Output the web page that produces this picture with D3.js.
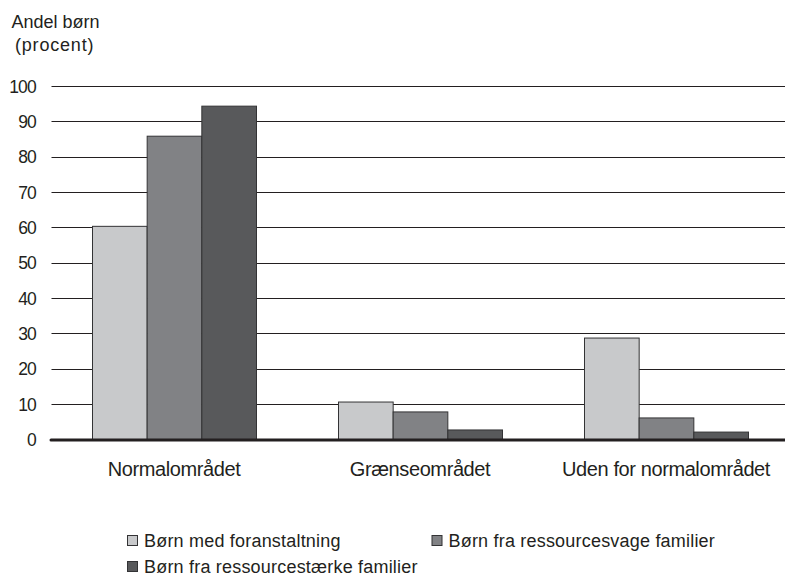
<!DOCTYPE html>
<html>
<head>
<meta charset="utf-8">
<script src="https://cdn.jsdelivr.net/npm/d3@7"></script>
<style>
  html, body { margin: 0; padding: 0; background: #fff; }
  svg { display: block; font-family: "Liberation Sans", Arial, sans-serif; }
</style>
</head>
<body>
<svg id="chart" width="785" height="576"></svg>
<script>
const categories = ["Normalområdet", "Grænseområdet", "Uden for normalområdet"];
const seriesNames = ["Børn med foranstaltning", "Børn fra ressourcesvage familier", "Børn fra ressourcestærke familier"];
const seriesColors = ["#c8c9cb", "#818285", "#58595b"];
const foranstaltning = [60.3, 10.6, 28.7];
const ressourcesvage = [85.8, 7.8, 6.1];
const ressourcestaerke = [94.3, 2.7, 2.1];
const yTicks = [0, 10, 20, 30, 40, 50, 60, 70, 80, 90, 100];
const yTitle = ["Andel børn", "(procent)"];

const seriesValues = [foranstaltning, ressourcesvage, ressourcestaerke];

const svg = d3.select("#chart");
const x0 = d3.scaleBand().domain(categories).range([51, 789]).padding(0);
const x1 = d3.scaleBand().domain(d3.range(seriesNames.length)).range([0, 164]).padding(0);
const y = d3.scaleLinear().domain([0, 100]).range([439.5, 86]);

// gridlines
svg.append("g").selectAll("line").data(yTicks.filter(d => d > 0)).join("line")
  .attr("x1", 51.5).attr("x2", 785)
  .attr("y1", d => Math.round(y(d)) + 0.5).attr("y2", d => Math.round(y(d)) + 0.5)
  .attr("stroke", "#231f20").attr("stroke-width", 1.2);

// y tick labels
const yAxis = d3.axisLeft(y).tickValues(yTicks).tickSize(0).tickPadding(0);
const ya = svg.append("g").attr("transform", "translate(36,0)").call(yAxis);
ya.select(".domain").remove();
ya.selectAll("text")
  .attr("font-family", "'Liberation Sans', Arial, sans-serif")
  .attr("font-size", 17.5).attr("fill", "#231f20").attr("letter-spacing", "-0.8px")
  .attr("dy", "0.35em");

// bars
const groups = svg.append("g").selectAll("g").data(categories).join("g")
  .attr("transform", d => `translate(${x0(d) + x0.bandwidth() / 2 - 82},0)`);
groups.selectAll("rect")
  .data((c, ci) => seriesValues.map((vals, si) => ({ si, v: vals[ci] })))
  .join("rect")
  .attr("x", d => x1(d.si) + 0.5)
  .attr("width", x1.bandwidth())
  .attr("y", d => y(d.v))
  .attr("height", d => y(0) - y(d.v))
  .attr("fill", d => seriesColors[d.si])
  .attr("stroke", "#333335").attr("stroke-width", 1);

// x axis line
svg.append("line").attr("x1", 51).attr("x2", 785)
  .attr("y1", y(0) + 0.5).attr("y2", y(0) + 0.5)
  .attr("stroke", "#231f20").attr("stroke-width", 3).attr("stroke-linecap", "round");

// x labels
const xAxis = d3.axisBottom(x0).tickSize(0).tickPadding(0);
const xa = svg.append("g").attr("transform", "translate(0,476)").call(xAxis);
xa.select(".domain").remove();
xa.selectAll("text")
  .attr("dy", 0)
  .attr("font-family", "'Liberation Sans', Arial, sans-serif")
  .attr("font-size", 20).attr("fill", "#231f20").attr("letter-spacing", "-0.4px");

// y title
svg.append("text").attr("x", 11.5).attr("y", 28).text(yTitle[0])
  .attr("font-size", 18).attr("fill", "#231f20");
svg.append("text").attr("x", 15).attr("y", 51).text(yTitle[1])
  .attr("font-size", 18).attr("fill", "#231f20").attr("letter-spacing", "0.8px");

// legend
const legendPos = [[127, 535], [431.5, 535], [127, 561]];
const lg = svg.append("g").selectAll("g").data(seriesNames).join("g")
  .attr("transform", (d, i) => `translate(${legendPos[i][0]},${legendPos[i][1]})`);
lg.append("rect").attr("x", 0.5).attr("y", 0.5).attr("width", 10).attr("height", 10)
  .attr("fill", (d, i) => seriesColors[i]).attr("stroke", "#333335").attr("stroke-width", 1);
lg.append("text").attr("x", 17).attr("y", 11.5).text(d => d)
  .attr("font-size", 18).attr("fill", "#231f20").attr("letter-spacing", "0.2px");
</script>
</body>
</html>
